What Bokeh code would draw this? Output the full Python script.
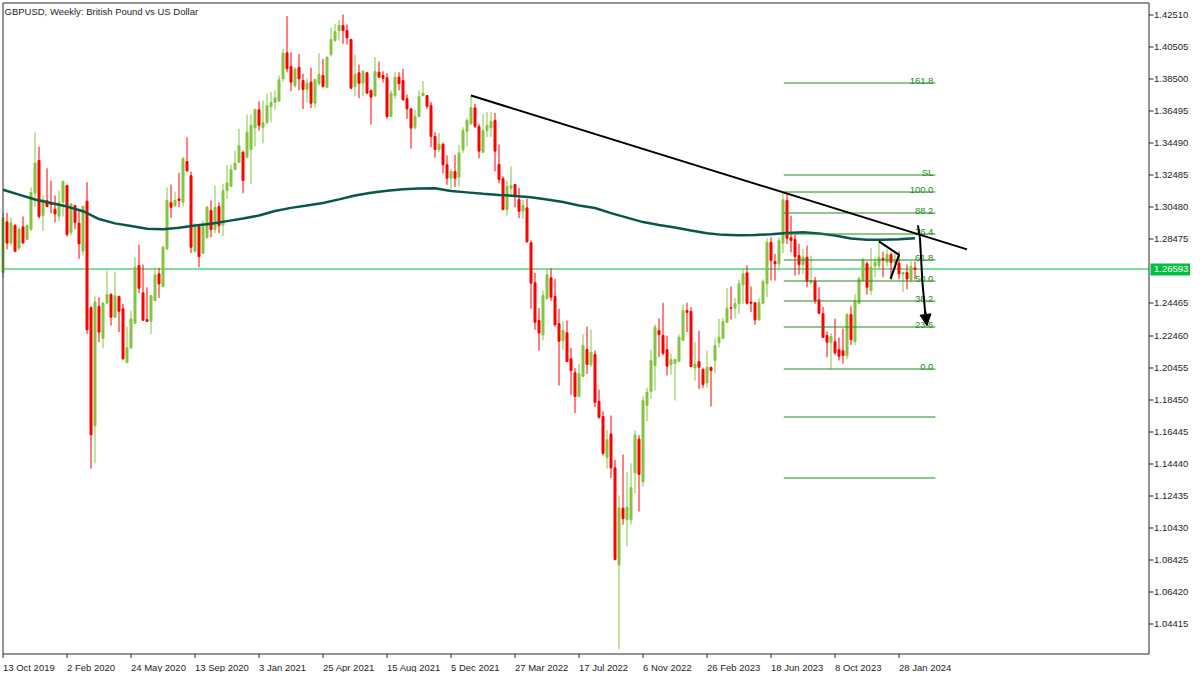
import math
from bokeh.plotting import figure
from bokeh.models import ColumnDataSource, Range1d, Arrow, NormalHead
from bokeh.embed import file_html
from bokeh.resources import INLINE
from bokeh.core.properties import value

FONT = "Liberation Sans"

# ---------------- data (weekly GBPUSD, bar 0 = week of 13 Oct 2019) ----------------
opens = [
 1.2640, 1.2957, 1.2825, 1.2934, 1.2794, 1.2926, 1.2848, 1.2912, 1.3137, 1.3342,
 1.2997, 1.3090, 1.3074, 1.3036, 1.2993, 1.3080, 1.3185, 1.2892, 1.3060, 1.2949,
 1.2774, 1.3087, 1.2420, 1.1682, 1.2428, 1.2229, 1.2449, 1.2503, 1.2361, 1.2490,
 1.2413, 1.2079, 1.2169, 1.2323, 1.2684, 1.2513, 1.2346, 1.2335, 1.2465, 1.2632,
 1.2552, 1.2788, 1.3077, 1.3059, 1.3101, 1.3081, 1.3335, 1.3247, 1.2773, 1.2930,
 1.2761, 1.2861, 1.3028, 1.2909, 1.3053, 1.2938, 1.3153, 1.3181, 1.3285, 1.3330,
 1.3393, 1.3362, 1.3409, 1.3546, 1.3659, 1.3549, 1.3580, 1.3678, 1.3705, 1.3713,
 1.3853, 1.4016, 1.3930, 1.3811, 1.3925, 1.3842, 1.3786, 1.3832, 1.3700, 1.3822,
 1.3873, 1.3800, 1.4005, 1.4093, 1.4155, 1.4187, 1.4155, 1.4099, 1.3805, 1.3890,
 1.3825, 1.3890, 1.3780, 1.3748, 1.3894, 1.3873, 1.3859, 1.3617, 1.3748, 1.3863,
 1.3842, 1.3728, 1.3665, 1.3550, 1.3617, 1.3748, 1.3748, 1.3686, 1.3492, 1.3410,
 1.3443, 1.3315, 1.3231, 1.3272, 1.3237, 1.3408, 1.3525, 1.3571, 1.3671, 1.3554,
 1.3393, 1.3529, 1.3546, 1.3592, 1.3317, 1.3227, 1.3035, 1.3168, 1.3191, 1.3097,
 1.3024, 1.3045, 1.2826, 1.2576, 1.2340, 1.2250, 1.2476, 1.2607, 1.2490, 1.2321,
 1.2215, 1.2263, 1.2100, 1.2013, 1.1864, 1.1990, 1.2159, 1.2065, 1.2127, 1.1833,
 1.1739, 1.1484, 1.1630, 1.1418, 1.0810, 1.1165, 1.1093, 1.1093, 1.1386, 1.1597,
 1.1330, 1.1808, 1.1897, 1.2058, 1.2277, 1.2246, 1.2157, 1.2063, 1.2072, 1.2085,
 1.2215, 1.2402, 1.2396, 1.2043, 1.2083, 1.2033, 1.1949, 1.2047, 1.2090, 1.2201,
 1.2229, 1.2329, 1.2421, 1.2417, 1.2445, 1.2563, 1.2638, 1.2455, 1.2451, 1.2344,
 1.2448, 1.2570, 1.2830, 1.2709, 1.2695, 1.2823, 1.3091, 1.2858, 1.2847, 1.2747,
 1.2690, 1.2736, 1.2578, 1.2588, 1.2470, 1.2382, 1.2246, 1.2204, 1.2207, 1.2157,
 1.2150, 1.2120, 1.2377, 1.2208, 1.2448, 1.2591, 1.2695, 1.2528, 1.2680, 1.2684,
 1.2728, 1.2705, 1.2752, 1.2703, 1.2699, 1.2630, 1.2640, 1.2597, 1.2668]

highs = [
 1.3013, 1.3014, 1.2985, 1.2944, 1.2924, 1.2991, 1.2941, 1.3174, 1.3517, 1.3429,
 1.3122, 1.3293, 1.3216, 1.3122, 1.3153, 1.3216, 1.3191, 1.3074, 1.3062, 1.3040,
 1.3060, 1.3206, 1.2430, 1.2491, 1.2486, 1.2455, 1.2653, 1.2510, 1.2646, 1.2495,
 1.2444, 1.2302, 1.2402, 1.2736, 1.2815, 1.2690, 1.2548, 1.2500, 1.2673, 1.2670,
 1.2809, 1.3174, 1.3191, 1.3147, 1.3264, 1.3361, 1.3487, 1.3272, 1.2950, 1.2941,
 1.2966, 1.3058, 1.3091, 1.3185, 1.3080, 1.3195, 1.3313, 1.3316, 1.3404, 1.3540,
 1.3404, 1.3629, 1.3629, 1.3665, 1.3713, 1.3717, 1.3760, 1.3770, 1.3780, 1.3874,
 1.4041, 1.4245, 1.4019, 1.3925, 1.4009, 1.3884, 1.3853, 1.3922, 1.3854, 1.4013,
 1.3978, 1.3992, 1.4172, 1.4197, 1.4222, 1.4255, 1.4193, 1.4103, 1.4005, 1.3942,
 1.3909, 1.3895, 1.3785, 1.3988, 1.3961, 1.3900, 1.3888, 1.3780, 1.3898, 1.3894,
 1.3915, 1.3755, 1.3670, 1.3659, 1.3780, 1.3838, 1.3752, 1.3707, 1.3519, 1.3514,
 1.3453, 1.3373, 1.3289, 1.3377, 1.3440, 1.3550, 1.3607, 1.3748, 1.3696, 1.3571,
 1.3634, 1.3644, 1.3644, 1.3640, 1.3442, 1.3243, 1.3216, 1.3304, 1.3195, 1.3170,
 1.3097, 1.3102, 1.2841, 1.2638, 1.2417, 1.2528, 1.2667, 1.2667, 1.2601, 1.2413,
 1.2334, 1.2340, 1.2169, 1.2042, 1.2069, 1.2253, 1.2302, 1.2284, 1.2152, 1.1908,
 1.1772, 1.1656, 1.1745, 1.1468, 1.1245, 1.1501, 1.1390, 1.1447, 1.1653, 1.1622,
 1.1864, 1.1919, 1.2158, 1.2315, 1.2354, 1.2451, 1.2246, 1.2132, 1.2100, 1.2252,
 1.2440, 1.2451, 1.2423, 1.2205, 1.2277, 1.2045, 1.2152, 1.2050, 1.2229, 1.2350,
 1.2356, 1.2542, 1.2553, 1.2482, 1.2595, 1.2664, 1.2684, 1.2553, 1.2455, 1.2480,
 1.2597, 1.2855, 1.2861, 1.2757, 1.2858, 1.3142, 1.3133, 1.2996, 1.2878, 1.2820,
 1.2789, 1.2809, 1.2746, 1.2612, 1.2548, 1.2425, 1.2271, 1.2262, 1.2351, 1.2234,
 1.2290, 1.2386, 1.2429, 1.2505, 1.2614, 1.2733, 1.2710, 1.2793, 1.2735, 1.2841,
 1.2772, 1.2785, 1.2765, 1.2775, 1.2773, 1.2645, 1.2690, 1.2710, 1.2709]

lows = [
 1.2608, 1.2786, 1.2809, 1.2768, 1.2779, 1.2820, 1.2844, 1.2899, 1.3049, 1.2977,
 1.2902, 1.3050, 1.3011, 1.2955, 1.2961, 1.2990, 1.2865, 1.2872, 1.2911, 1.2726,
 1.2747, 1.2257, 1.1412, 1.1446, 1.2204, 1.2166, 1.2440, 1.2308, 1.2355, 1.2267,
 1.2094, 1.2072, 1.2163, 1.2318, 1.2511, 1.2338, 1.2330, 1.2256, 1.2460, 1.2481,
 1.2548, 1.2780, 1.2982, 1.3049, 1.3049, 1.3053, 1.3270, 1.2762, 1.2765, 1.2673,
 1.2755, 1.2851, 1.2861, 1.2886, 1.2886, 1.2869, 1.3101, 1.3175, 1.3280, 1.3325,
 1.3137, 1.3358, 1.3194, 1.3429, 1.3529, 1.3449, 1.3566, 1.3580, 1.3658, 1.3710,
 1.3832, 1.3894, 1.3775, 1.3797, 1.3780, 1.3664, 1.3706, 1.3669, 1.3671, 1.3811,
 1.3797, 1.3795, 1.3992, 1.4082, 1.4093, 1.4072, 1.4067, 1.3790, 1.3742, 1.3731,
 1.3742, 1.3759, 1.3567, 1.3738, 1.3860, 1.3830, 1.3602, 1.3612, 1.3727, 1.3780,
 1.3717, 1.3602, 1.3415, 1.3534, 1.3612, 1.3742, 1.3665, 1.3425, 1.3359, 1.3394,
 1.3260, 1.3189, 1.3160, 1.3174, 1.3178, 1.3387, 1.3429, 1.3565, 1.3544, 1.3356,
 1.3387, 1.3488, 1.3488, 1.3273, 1.3199, 1.3029, 1.2997, 1.3122, 1.3049, 1.2980,
 1.2976, 1.2826, 1.2413, 1.2282, 1.2152, 1.2215, 1.2470, 1.2461, 1.2302, 1.1933,
 1.2156, 1.2079, 1.1875, 1.1760, 1.1860, 1.1985, 1.2006, 1.2047, 1.1797, 1.1725,
 1.1495, 1.1412, 1.1355, 1.0838, 1.0285, 1.1061, 1.0927, 1.1063, 1.1259, 1.1144,
 1.1300, 1.1710, 1.1850, 1.1902, 1.2110, 1.2120, 1.1996, 1.2002, 1.1839, 1.2080,
 1.2210, 1.2267, 1.2048, 1.1964, 1.1912, 1.1919, 1.1919, 1.1802, 1.2010, 1.2169,
 1.2222, 1.2323, 1.2346, 1.2354, 1.2382, 1.2445, 1.2440, 1.2392, 1.2313, 1.2340,
 1.2440, 1.2486, 1.2590, 1.2590, 1.2664, 1.2763, 1.2820, 1.2767, 1.2621, 1.2627,
 1.2632, 1.2548, 1.2565, 1.2445, 1.2379, 1.2230, 1.2110, 1.2037, 1.2123, 1.2090,
 1.2070, 1.2096, 1.2187, 1.2186, 1.2440, 1.2590, 1.2502, 1.2500, 1.2612, 1.2660,
 1.2611, 1.2680, 1.2597, 1.2659, 1.2597, 1.2518, 1.2535, 1.2577, 1.2598]

closes = [
 1.2985, 1.2825, 1.2950, 1.2773, 1.2911, 1.2826, 1.2934, 1.3141, 1.3325, 1.2991,
 1.3095, 1.3053, 1.3066, 1.3007, 1.3078, 1.3209, 1.2878, 1.3070, 1.2955, 1.2820,
 1.3054, 1.2282, 1.1625, 1.2456, 1.2267, 1.2449, 1.2503, 1.2361, 1.2494, 1.2398,
 1.2100, 1.2169, 1.2350, 1.2674, 1.2542, 1.2342, 1.2335, 1.2495, 1.2626, 1.2569,
 1.2798, 1.3091, 1.3049, 1.3091, 1.3091, 1.3355, 1.3278, 1.2798, 1.2923, 1.2740,
 1.2928, 1.3049, 1.2909, 1.3049, 1.2934, 1.3153, 1.3201, 1.3285, 1.3325, 1.3435,
 1.3216, 1.3519, 1.3561, 1.3659, 1.3561, 1.3580, 1.3685, 1.3705, 1.3733, 1.3847,
 1.4013, 1.3916, 1.3832, 1.3915, 1.3853, 1.3786, 1.3825, 1.3700, 1.3848, 1.3880,
 1.3805, 1.3988, 1.4099, 1.4149, 1.4187, 1.4155, 1.4109, 1.3794, 1.3880, 1.3825,
 1.3898, 1.3763, 1.3738, 1.3899, 1.3863, 1.3856, 1.3617, 1.3763, 1.3863, 1.3822,
 1.3721, 1.3665, 1.3544, 1.3617, 1.3742, 1.3763, 1.3681, 1.3492, 1.3410, 1.3443,
 1.3315, 1.3231, 1.3272, 1.3231, 1.3390, 1.3529, 1.3592, 1.3671, 1.3556, 1.3400,
 1.3529, 1.3561, 1.3586, 1.3400, 1.3223, 1.3035, 1.3179, 1.3185, 1.3122, 1.3024,
 1.3060, 1.2834, 1.2574, 1.2329, 1.2261, 1.2497, 1.2626, 1.2486, 1.2313, 1.2210,
 1.2277, 1.2083, 1.2027, 1.1864, 1.2007, 1.2184, 1.2065, 1.2141, 1.1828, 1.1735,
 1.1508, 1.1593, 1.1418, 1.0844, 1.1167, 1.1099, 1.1171, 1.1293, 1.1622, 1.1376,
 1.1839, 1.1891, 1.2089, 1.2298, 1.2252, 1.2135, 1.2054, 1.2094, 1.2096, 1.2235,
 1.2402, 1.2391, 1.2052, 1.2068, 1.2047, 1.1939, 1.2047, 1.2027, 1.2184, 1.2235,
 1.2334, 1.2417, 1.2417, 1.2445, 1.2570, 1.2632, 1.2448, 1.2448, 1.2344, 1.2451,
 1.2584, 1.2830, 1.2715, 1.2695, 1.2840, 1.3095, 1.2855, 1.2841, 1.2740, 1.2690,
 1.2736, 1.2584, 1.2590, 1.2465, 1.2386, 1.2235, 1.2204, 1.2240, 1.2138, 1.2116,
 1.2120, 1.2377, 1.2220, 1.2461, 1.2601, 1.2720, 1.2548, 1.2674, 1.2705, 1.2736,
 1.2719, 1.2753, 1.2703, 1.2711, 1.2632, 1.2640, 1.2600, 1.2678, 1.26593]

# moving average (sampled every 4 weeks)
ma_bars = list(range(0, 229, 4))
ma_values = [
 1.3158, 1.3128, 1.3097, 1.3075, 1.3053, 1.3024, 1.2975, 1.2948, 1.2931, 1.2914,
 1.2911, 1.2920, 1.2935, 1.2946, 1.2962, 1.2978, 1.2997, 1.3025, 1.3045, 1.3060,
 1.3075, 1.3098, 1.3122, 1.3140, 1.3152, 1.3162, 1.3167, 1.3168, 1.3150, 1.3142,
 1.3133, 1.3126, 1.3120, 1.3112, 1.3097, 1.3082, 1.3060, 1.3044, 1.3012, 1.2984,
 1.2956, 1.2938, 1.2922, 1.2903, 1.2886, 1.2876, 1.2874, 1.2875, 1.2880, 1.2888,
 1.2892, 1.2884, 1.2872, 1.2853, 1.2845, 1.2845, 1.2849, 1.2855]

date_labels = ["13 Oct 2019", "2 Feb 2020", "24 May 2020", "13 Sep 2020", "3 Jan 2021",
               "25 Apr 2021", "15 Aug 2021", "5 Dec 2021", "27 Mar 2022", "17 Jul 2022",
               "6 Nov 2022", "26 Feb 2023", "18 Jun 2023", "8 Oct 2023", "28 Jan 2024"]
date_label_bars = [0, 16, 32, 48, 64, 80, 96, 112, 128, 144, 160, 176, 192, 208, 224]

price_ticks = [1.42510, 1.40505, 1.38500, 1.36495, 1.34490, 1.32485, 1.30480, 1.28475,
               1.24465, 1.22460, 1.20455, 1.18450, 1.16445, 1.14440, 1.12435, 1.10430,
               1.08425, 1.06420, 1.04415]
last_price = 1.26593
title_text = "GBPUSD, Weekly:  British Pound vs US Dollar"

# drawings (bar index, price)
trend_bars = [117, 241]
trend_prices = [1.3748, 1.2785]
fib_high = 1.3142
fib_low = 1.2037
fib_bar_start = 195.2
fib_bar_end = 233.1
fib_label_bar = 232.6
fib_levels = [1.618, 1.10, 1.0, 0.882, 0.764, 0.618, 0.5, 0.382, 0.236, 0.0, -0.272, -0.618]
fib_texts = ["161.8", "SL", "100.0", "88.2", "76.4", "61.8", "50.0", "38.2", "23.6", "0.0", "", ""]
check_bars = [219.0, 224.0, 221.9]
check_prices = [1.2835, 1.2751, 1.2601]
arrow_bars = [228.75, 229.25, 229.85, 230.5, 231.0]
arrow_prices = [1.2935, 1.2851, 1.2580, 1.2403, 1.2309]

# ---------------- styling / layout ----------------
BULL = "#84c441"
BEAR = "#ff0000"
MA_COLOR = "#08574a"
FIB_COLOR = "#228b22"
PRICE_COLOR = "#00c040"
AXIS_COLOR = "#2b2b2b"
TEXT_COLOR = "#1e1e1e"
FS = "9.5px"

W, H = 1200, 672
PX_PER_BAR = 4.0
BAR0_PX = 2.5            # page x of bar 0
PX_PER_UNIT = 1597.6
REF_PRICE, REF_PX = 1.42510, 14.7

def bx(px):   # page x -> bar coordinate
    return (px - BAR0_PX) / PX_PER_BAR

def py(px):   # page y -> price coordinate
    return REF_PRICE - (px - REF_PX) / PX_PER_UNIT

def row(price):   # pixel row that holds a price
    return math.floor(REF_PX + (REF_PRICE - price) * PX_PER_UNIT)

def hline(x0, x1, prices, color):   # 1px horizontal lines as pixel-aligned strips
    rows = [row(pr) for pr in prices]
    p.quad(left=[x0] * len(rows), right=[x1] * len(rows),
           top=[py(r) for r in rows], bottom=[py(r + 1) for r in rows],
           fill_color=color, line_color=None)

# chart frame (pixels)
FL, FR, FT, FB = 2.5, 1148.5, 2.5, 653.5

p = figure(width=W, height=H, x_range=Range1d(bx(0), bx(W)), y_range=Range1d(py(H), py(0)),
           output_backend="svg", toolbar_location=None,
           x_axis_location=None, y_axis_location=None,
           min_border_left=0, min_border_right=0, min_border_top=0, min_border_bottom=0,
           background_fill_color="white", border_fill_color="white",
           outline_line_color=None)
p.xgrid.visible = False
p.ygrid.visible = False

# current price line (full chart width)
hline(bx(FL), bx(FR), [last_price], PRICE_COLOR)

# candles
n = len(closes)
src = ColumnDataSource(dict(
    i=list(range(n)), high=highs, low=lows,
    top=[max(o, c) for o, c in zip(opens, closes)],
    bottom=[min(o, c) for o, c in zip(opens, closes)],
    color=[BULL if c >= o else BEAR for o, c in zip(opens, closes)]))
p.segment(x0="i", y0="low", x1="i", y1="high", line_color="color", line_width=1, source=src)
p.vbar(x="i", width=0.5, top="top", bottom="bottom", fill_color="color",
       line_color="color", line_width=1, source=src)

# moving average
p.line(ma_bars, ma_values, line_color=MA_COLOR, line_width=2.5)

# fibonacci levels
fib_prices = [fib_low + lv * (fib_high - fib_low) for lv in fib_levels]
hline(fib_bar_start, fib_bar_end, fib_prices, FIB_COLOR)
lab_y = [py(row(pr)) for pr, t in zip(fib_prices, fib_texts) if t]
lab_t = [t for t in fib_texts if t]
p.text(x=[fib_label_bar] * len(lab_t), y=lab_y, text=lab_t,
       text_align="right", text_baseline="alphabetic", y_offset=-2,
       text_color=FIB_COLOR, text_font=value(FONT), text_font_size=FS)

# trendline and sketches
p.line(trend_bars, trend_prices, line_color="black", line_width=2)
p.line(check_bars, check_prices, line_color="black", line_width=2)
p.line(arrow_bars, arrow_prices, line_color="black", line_width=2)
p.add_layout(Arrow(end=NormalHead(size=11, fill_color="black", line_color="black"),
                   x_start=arrow_bars[-2], y_start=arrow_prices[-2],
                   x_end=arrow_bars[-1], y_end=arrow_prices[-1],
                   line_color="black", line_width=2))

# chart frame
p.quad(left=[bx(FL)], right=[bx(FR)], top=[py(FT)], bottom=[py(FB)],
       fill_color=None, line_color=AXIS_COLOR, line_width=1)

# right price scale: ticks + labels
k = len(price_ticks)
hline(bx(FR), bx(FR + 4.5), price_ticks, AXIS_COLOR)
p.text(x=[bx(FR + 5)] * k, y=price_ticks, text=[f"{t:.5f}" for t in price_ticks],
       text_align="left", text_baseline="middle", text_color=TEXT_COLOR,
       text_font=value(FONT), text_font_size=FS)

# current price box
p.quad(left=[bx(FR + 1.5)], right=[bx(FR + 41)], top=[last_price + 6 / PX_PER_UNIT],
       bottom=[last_price - 6 / PX_PER_UNIT], fill_color=PRICE_COLOR, line_color=None)
p.text(x=[bx(FR + 5)], y=[last_price], text=[f"{last_price:.5f}"],
       text_align="left", text_baseline="middle", text_color="white",
       text_font=value(FONT), text_font_size=FS)

# time scale: ticks + labels starting at the tick
m = len(date_label_bars)
p.segment(x0=date_label_bars, y0=[py(FB)] * m, x1=date_label_bars, y1=[py(FB + 4)] * m,
          line_color=AXIS_COLOR, line_width=1)
p.text(x=date_label_bars, y=[py(667)] * m, text=date_labels,
       text_align="left", text_baseline="alphabetic", text_color=TEXT_COLOR,
       text_font=value(FONT), text_font_size=FS)

# title
p.text(x=[bx(4)], y=[py(11)], text=[title_text], text_align="left",
       text_baseline="alphabetic", text_color=TEXT_COLOR,
       text_font=value(FONT), text_font_size=FS)

open("out.html", "w").write(file_html(p, INLINE))
